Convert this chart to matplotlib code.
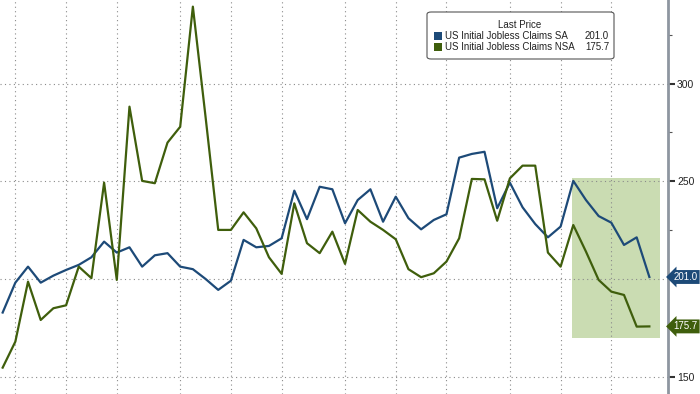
import matplotlib.pyplot as plt
from matplotlib.patches import FancyBboxPatch, Rectangle

plt.rcParams['font.family'] = ['Liberation Sans', 'DejaVu Sans']

# weekly claims, thousands
sa = [182.8, 198.1, 206.3, 198.1, 201.7, 204.6, 207.2, 211.1, 219.1, 213.5,
      216.2, 206.3, 212.1, 213.2, 206.3, 205.0, 200.0, 194.4, 199.1, 220.0,
      216.2, 216.9, 220.8, 245.2, 230.6, 247.2, 245.9, 228.5, 240.4, 245.9,
      229.3, 242.1, 231.1, 225.4, 230.2, 233.1, 262.1, 264.0, 265.1, 236.2,
      249.3, 236.7, 228.1, 221.3, 226.8, 250.2, 240.4, 232.2, 228.8, 217.4,
      221.3, 201.0]
nsa = [154.6, 167.9, 198.6, 179.0, 185.0, 186.5, 206.3, 200.4, 249.3, 199.5,
       288.2, 250.2, 249.0, 269.8, 277.9, 339.4, 283.0, 225.1, 225.1, 234.1,
       225.9, 211.1, 202.6, 238.7, 218.3, 213.2, 224.2, 207.7, 235.3, 229.3,
       225.1, 220.3, 205.0, 200.9, 202.9, 208.9, 220.8, 251.2, 251.0, 229.8,
       251.5, 258.0, 258.0, 213.5, 206.3, 227.6, 214.0, 199.5, 193.5, 191.8,
       175.6, 175.7]
month_starts = [1, 5, 9, 14, 18, 22, 27, 31, 35, 40, 44, 48]
yticks = [150, 200, 250, 300]
ytick_labels = ['150', '', '250', '300']  # 200 sits under the SA tag
minor_yticks = [175, 225, 275, 325]
names = ['US Initial Jobless Claims SA', 'US Initial Jobless Claims NSA']
last = ['201.0', '175.7']

blue = '#1d4a78'
green = '#3f5e0c'
colors = [blue, green]

fig = plt.figure(figsize=(7, 3.94), dpi=100)
ax = fig.add_axes([0, 0, 668 / 700, 1])

x = list(range(len(sa)))
ax.add_patch(Rectangle((44.9, 170.0), 6.9, 81.8, facecolor='#cadcb2',
                       edgecolor='none', zorder=0))
ax.plot(x, sa, color=blue, lw=1.6, zorder=3)
ax.plot(x, nsa, color=green, lw=1.6, zorder=3)

ax.set_xlim(-0.21, 52.47)
ax.set_ylim(141.1, 342.8)

ax.set_xticks(month_starts)
ax.set_xticklabels([])
ax.tick_params(axis='x', length=0)
ax.yaxis.tick_right()
ax.set_yticks(yticks)
ax.set_yticklabels(ytick_labels)
ax.set_yticks(minor_yticks, minor=True)
ax.tick_params(axis='y', which='major', length=5, width=1.5, color='#333333',
               labelsize=7.5, labelcolor='#222222', pad=1.5)
ax.tick_params(axis='y', which='minor', length=3, width=0.8, color='#555555')
ax.grid(True, which='major', color='#8a8a8a', lw=0.8, ls=(0, (1, 3)))

for s in ['top', 'left', 'bottom']:
    ax.spines[s].set_visible(False)
ax.spines['right'].set_color('#8e96a0')
ax.spines['right'].set_linewidth(2)

# last value tags on the right axis
for val, c in zip([sa[-1], nsa[-1]], colors):
    ax.annotate(f'{val:.1f}', xy=(1.0, val), xycoords=('axes fraction', 'data'),
                xytext=(4, 0), textcoords='offset points', ha='left', va='center',
                fontsize=7, color='white', annotation_clip=False,
                bbox=dict(boxstyle='larrow,pad=0.2', fc=c, ec='none'))

# legend box
fig.patches.append(FancyBboxPatch((427 / 700, 1 - 59 / 394), 187 / 700, 47 / 394,
                                  boxstyle='round,pad=0,rounding_size=0.006',
                                  transform=fig.transFigure, fc='white',
                                  ec='#555555', lw=0.8, zorder=5))
fig.text(520 / 700, 1 - 25 / 394, 'Last Price', ha='center', va='center',
         fontsize=7, color='#222222', zorder=6)
for i, (n, v, c) in enumerate(zip(names, last, colors)):
    yy = 1 - (36 + 11 * i) / 394
    fig.patches.append(Rectangle((434 / 700, yy - 4 / 394), 8 / 700, 8 / 394,
                                 transform=fig.transFigure, fc=c, ec='none',
                                 zorder=6))
    fig.text(445 / 700, yy, n, ha='left', va='center', fontsize=7,
             color='#222222', zorder=6)
    fig.text(609 / 700, yy, v, ha='right', va='center', fontsize=7,
             color='#222222', zorder=6)

fig.savefig('out.png', dpi=100)
